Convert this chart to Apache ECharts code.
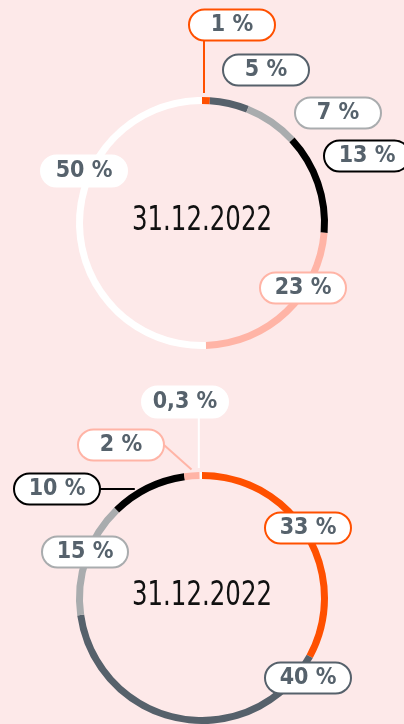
<!DOCTYPE html>
<html>
<head>
<meta charset="utf-8">
<script src="https://cdn.jsdelivr.net/npm/echarts@6/dist/echarts.min.js"></script>
<style>
html,body{margin:0;padding:0;background:#fde9e9;}
#c{width:404px;height:724px;}
</style>
</head>
<body>
<div id="c"></div>
<script>
// ---- data ----
const dateLabel = '31.12.2022';
const topValues = [1, 5, 7, 13, 23, 50];
const topColors = ['#ff5000', '#56616b', '#a9acae', '#000000', '#ffb4a6', '#ffffff'];
const bottomValues = [33, 40, 15, 10, 2, 0.3];
const bottomColors = ['#ff5000', '#56616b', '#a9acae', '#000000', '#ffb4a6', '#ffffff'];

// ---- layout (not data) ----
const FONT = "'Liberation Sans Narrow', 'DejaVu Sans Condensed', 'Roboto', sans-serif";
const CENTERS = [[202, 223], [202, 598]];
const R_IN = 119, R_OUT = 126;
const PILL_W = 86, PILL_H = 31;
// label centres, and connector type per slice
const LABEL_POS = [
  [[232, 25], [266, 70], [338, 113], [367, 156], [303, 288], [84, 171]],
  [[308, 528], [308, 678], [85, 552], [57, 489], [121, 445], [185, 402]]
];
const LINE_TYPE = [
  ['v', null, null, null, null, null],
  [null, null, null, 'h', 'd', 'v']
];

function fmt(v) { return String(v).replace('.', ',') + ' %'; }

function buildData(values, colors, s) {
  return values.map((v, i) => ({
    value: v,
    itemStyle: { color: colors[i] },
    label: { borderColor: colors[i] },
    labelLine: { show: !!LINE_TYPE[s][i], lineStyle: { color: colors[i], width: 2 } }
  }));
}

function layoutFn(params) {
  const s = params.seriesIndex, i = params.dataIndex;
  const p = LABEL_POS[s][i];
  const out = { x: p[0], y: p[1], align: 'center', verticalAlign: 'middle' };
  const t = LINE_TYPE[s][i];
  const c = CENTERS[s];
  const gap = 4;
  if (t && params.labelLinePoints) {
    const a = params.labelLinePoints[0];
    if (t === 'v') {
      const bottom = p[1] + PILL_H / 2;
      const x = a[0] - 2;
      const yRing = c[1] - Math.sqrt(R_OUT * R_OUT - (x - c[0]) * (x - c[0]));
      out.labelLinePoints = [[x, yRing - gap], [x, bottom], [x, bottom]];
    } else if (t === 'h') {
      const right = p[0] + PILL_W / 2;
      const y = p[1];
      const xRing = c[0] - Math.sqrt(R_OUT * R_OUT - (y - c[1]) * (y - c[1]));
      out.labelLinePoints = [[xRing - gap, y], [right, y], [right, y]];
    } else if (t === 'd') {
      const right = p[0] + PILL_W / 2;
      const dx = a[0] - c[0], dy = a[1] - c[1];
      const len = Math.sqrt(dx * dx + dy * dy);
      const ax = c[0] + dx / len * (R_OUT + 3), ay = c[1] + dy / len * (R_OUT + 3);
      out.labelLinePoints = [[ax, ay], [right, p[1]], [right, p[1]]];
    }
  }
  return out;
}

function pieSeries(values, colors, s) {
  return {
    type: 'pie',
    center: CENTERS[s],
    radius: [R_IN, R_OUT],
    startAngle: 90,
    clockwise: true,
    silent: true,
    avoidLabelOverlap: false,
    minShowLabelAngle: 0,
    itemStyle: { borderWidth: 0 },
    label: {
      show: true,
      position: 'outside',
      formatter: (p) => fmt(p.value),
      color: '#56626c',
      fontFamily: FONT,
      fontSize: 23,
      fontWeight: 'bold',
      backgroundColor: '#ffffff',
      borderWidth: 2,
      borderRadius: 16,
      width: PILL_W - 2,
      height: PILL_H - 2,
      lineHeight: PILL_H - 2,
      padding: 0,
      align: 'center'
    },
    labelLine: { show: true, length: 10, length2: 10, smooth: false },
    labelLayout: layoutFn,
    data: buildData(values, colors, s)
  };
}

const chart = echarts.init(document.getElementById('c'), null, { renderer: 'canvas' });
chart.setOption({
  backgroundColor: '#fde9e9',
  animation: false,
  graphic: CENTERS.map(c => ({
    type: 'text',
    x: c[0],
    y: c[1] - 2,
    scaleX: 0.8,
    silent: true,
    style: {
      text: dateLabel,
      align: 'center',
      verticalAlign: 'middle',
      fill: '#111111',
      fontFamily: FONT,
      fontSize: 34,
      fontWeight: 'normal'
    }
  })),
  series: [
    pieSeries(topValues, topColors, 0),
    pieSeries(bottomValues, bottomColors, 1)
  ]
});
</script>
</body>
</html>
